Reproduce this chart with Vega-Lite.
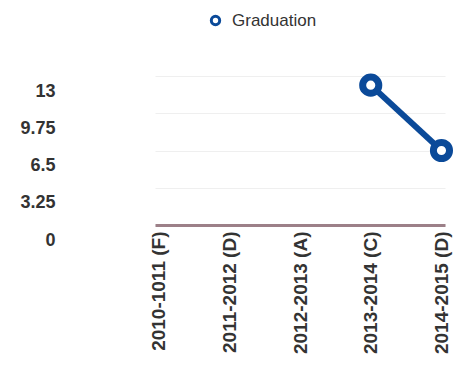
{
  "$schema": "https://vega.github.io/schema/vega-lite/v6.json",
  "autosize": "none",
  "width": 290,
  "height": 149,
  "padding": {"left": 155, "top": 76, "right": 17, "bottom": 142},
  "background": "white",
  "config": {
    "font": "Liberation Sans",
    "view": {"stroke": null}
  },
  "data": {
    "values": [
      {"year": "2010-1011 (F)", "series": "Graduation", "value": null},
      {"year": "2011-2012 (D)", "series": "Graduation", "value": null},
      {"year": "2012-2013 (A)", "series": "Graduation", "value": null},
      {"year": "2013-2014 (C)", "series": "Graduation", "value": 12.2},
      {"year": "2014-2015 (D)", "series": "Graduation", "value": 6.5}
    ]
  },
  "encoding": {
    "x": {
      "field": "year",
      "type": "ordinal",
      "sort": null,
      "scale": {
        "type": "point",
        "padding": 0.05,
        "domain": ["2010-1011 (F)", "2011-2012 (D)", "2012-2013 (A)", "2013-2014 (C)", "2014-2015 (D)"]
      },
      "axis": {
        "title": null,
        "labelAngle": -90,
        "labelAlign": "right",
        "labelBaseline": "middle",
        "labelFontSize": 19,
        "labelFontWeight": "bold",
        "labelColor": "#333333",
        "labelPadding": 6,
        "labelOverlap": false,
        "ticks": false,
        "domainColor": "#9c8088",
        "domainWidth": 3,
        "grid": false
      }
    },
    "y": {
      "field": "value",
      "type": "quantitative",
      "scale": {"domain": [0, 13], "nice": false, "zero": true},
      "axis": {
        "title": null,
        "values": [0, 3.25, 6.5, 9.75, 13],
        "labelExpr": "datum.value",
        "labelFontSize": 18,
        "labelFontWeight": "bold",
        "labelColor": "#333333",
        "labelPadding": 100,
        "labelOffset": 15,
        "ticks": false,
        "domain": false,
        "grid": true,
        "gridColor": "#efefef",
        "gridWidth": 1
      }
    },
    "color": {
      "field": "series",
      "type": "nominal",
      "scale": {"range": ["#0b4a99"]},
      "legend": {
        "title": null,
        "orient": "none",
        "legendX": 52,
        "legendY": -64,
        "symbolType": "circle",
        "symbolSize": 70,
        "symbolStrokeWidth": 3,
        "symbolFillColor": "#6f8fbf",
        "labelFontSize": 17,
        "labelColor": "#333333",
        "labelOffset": 8
      }
    }
  },
  "layer": [
    {
      "mark": {"type": "line", "strokeWidth": 6}
    },
    {
      "mark": {"type": "point", "shape": "circle", "filled": false, "fill": "white", "size": 260, "strokeWidth": 7, "opacity": 1}
    }
  ]
}
